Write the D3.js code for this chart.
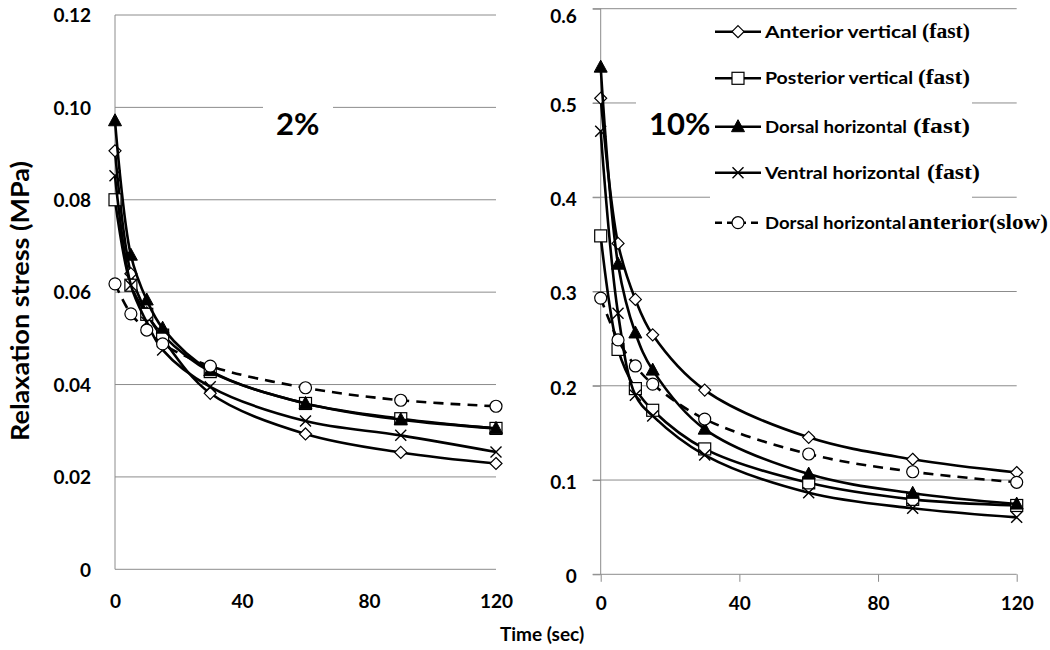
<!DOCTYPE html>
<html><head><meta charset="utf-8">
<script src="https://cdn.jsdelivr.net/npm/d3@7"></script>
<style>
html,body{margin:0;padding:0;background:#fff;}
svg{display:block;}
text{font-family:Lato,"Open Sans",sans-serif;font-weight:bold;fill:#000;}
</style></head>
<body>
<svg id="chart" width="1050" height="650"></svg>
<script>
// ---- data ----
const time = [0, 5, 10, 15, 30, 60, 90, 120];
const seriesNames = ["Anterior vertical", "Posterior vertical", "Dorsal horizontal", "Ventral horizontal", "Dorsal horizontal"];
const seriesSuffix = ["(fast)", "(fast)", "(fast)", "(fast)", "anterior(slow)"];
const markerTypes = ["diamond", "square", "triangle", "x", "circle"];

// 2% strain
const anteriorV2 = [0.0906, 0.0640, 0.0555, 0.0500, 0.0381, 0.0293, 0.0253, 0.0229];
const posteriorV2 = [0.0800, 0.0615, 0.0552, 0.0507, 0.0428, 0.0359, 0.0326, 0.0305];
const dorsalH2 = [0.0971, 0.0680, 0.0583, 0.0522, 0.0430, 0.0359, 0.0324, 0.0305];
const ventralH2 = [0.0852, 0.0615, 0.0535, 0.0475, 0.0395, 0.0321, 0.0290, 0.0254];
const dorsalAntSlow2 = [0.0618, 0.0553, 0.0518, 0.0488, 0.0440, 0.0393, 0.0366, 0.0353];

// 10% strain
const anteriorV10 = [0.505, 0.351, 0.2916, 0.254, 0.1954, 0.1453, 0.122, 0.108];
const posteriorV10 = [0.359, 0.2386, 0.197, 0.174, 0.133, 0.097, 0.0795, 0.073];
const dorsalH10 = [0.538, 0.329, 0.256, 0.2166, 0.154, 0.1063, 0.0859, 0.0745];
const ventralH10 = [0.470, 0.277, 0.190, 0.168, 0.1265, 0.0865, 0.070, 0.0604];
const dorsalAntSlow10 = [0.293, 0.2486, 0.221, 0.2018, 0.1647, 0.1276, 0.1088, 0.0976];

const xTicks = [0, 40, 80, 120];
const yTicks2 = [0, 0.02, 0.04, 0.06, 0.08, 0.10, 0.12];
const yTicks10 = [0, 0.1, 0.2, 0.3, 0.4, 0.5, 0.6];
const yTickLabels2 = ["0", "0.02", "0.04", "0.06", "0.08", "0.10", "0.12"];
const yTickLabels10 = ["0", "0.1", "0.2", "0.3", "0.4", "0.5", "0.6"];

const svg = d3.select("#chart");
const GRID = "#8c8c8c";
const LW = 2.6;

function drawMarker(g, type, cx, cy) {
  if (type === "diamond") {
    g.append("path").attr("d", `M${cx},${cy-6}L${cx+6},${cy}L${cx},${cy+6}L${cx-6},${cy}Z`)
      .attr("fill", "#fff").attr("stroke", "#000").attr("stroke-width", 1.2);
  } else if (type === "square") {
    g.append("rect").attr("x", cx-6).attr("y", cy-6).attr("width", 12).attr("height", 12)
      .attr("fill", "#fff").attr("stroke", "#000").attr("stroke-width", 1.2);
  } else if (type === "triangle") {
    g.append("path").attr("d", `M${cx},${cy-7}L${cx+6.5},${cy+5}L${cx-6.5},${cy+5}Z`)
      .attr("fill", "#000").attr("stroke", "#000").attr("stroke-width", 1);
  } else if (type === "x") {
    g.append("path").attr("d", `M${cx-5.5},${cy-5.5}L${cx+5.5},${cy+5.5}M${cx+5.5},${cy-5.5}L${cx-5.5},${cy+5.5}`)
      .attr("stroke", "#000").attr("stroke-width", 1.4).attr("fill", "none");
  } else if (type === "circle") {
    g.append("circle").attr("cx", cx).attr("cy", cy).attr("r", 6)
      .attr("fill", "#fff").attr("stroke", "#000").attr("stroke-width", 1.2);
  }
}

function drawPanel(cfg) {
  const x = d3.scaleLinear().domain([0, 120]).range(cfg.xr);
  const y = d3.scaleLinear().domain(cfg.ydom).range(cfg.yr);
  const g = svg.append("g");

  // gridlines
  g.selectAll(".grid").data(cfg.yTicks.filter(d => d > 0)).enter().append("line")
    .attr("x1", cfg.xr[0] - cfg.ytick).attr("x2", cfg.xr[1])
    .attr("y1", d => y(d)).attr("y2", d => y(d))
    .attr("stroke", GRID).attr("stroke-width", 1);

  // white boxes covering gridlines (text boxes / legend)
  cfg.boxes.forEach(b => g.append("rect").attr("x", b[0]).attr("y", b[1]).attr("width", b[2]).attr("height", b[3]).attr("fill", "#fff"));

  // y axis
  const ya = d3.axisLeft(y).tickValues(cfg.yTicks).tickFormat((d, i) => cfg.yLabels[i])
    .tickSize(cfg.ytick).tickPadding(cfg.ypad);
  const yg = g.append("g").attr("transform", `translate(${cfg.xr[0]},0)`).call(ya);
  yg.select(".domain").remove();
  yg.selectAll(".tick line").attr("stroke", GRID);
  yg.selectAll(".tick text").attr("font-size", 19).attr("font-family", "Lato").attr("font-weight", "bold").attr("fill", "#000")
    .attr("dy", "0.36em")
    .attr("y", d => Math.max(0, 14 - y(d)) + cfg.yLabelShift);
  g.append("line").attr("x1", cfg.xr[0]).attr("x2", cfg.xr[0]).attr("y1", cfg.yr[1]).attr("y2", cfg.yr[0])
    .attr("stroke", GRID).attr("stroke-width", 1);

  // x axis
  const xa = d3.axisBottom(x).tickValues(xTicks).tickSize(cfg.xtick).tickPadding(0);
  const xg = g.append("g").attr("transform", `translate(0,${cfg.yr[0]})`).call(xa);
  xg.select(".domain").remove();
  xg.selectAll(".tick line").attr("stroke", GRID);
  xg.selectAll(".tick text").attr("font-size", 19).attr("font-family", "Lato").attr("font-weight", "bold").attr("fill", "#000")
    .attr("y", cfg.xLabelBase - cfg.yr[0]).attr("dy", 0);
  g.append("line").attr("x1", cfg.xr[0] - cfg.ytick).attr("x2", cfg.xr[1]).attr("y1", cfg.yr[0]).attr("y2", cfg.yr[0])
    .attr("stroke", GRID).attr("stroke-width", 1);

  // label (2% / 10%)
  g.append("text").attr("x", cfg.label[0]).attr("y", cfg.label[1]).attr("font-size", 31).text(cfg.label[2]);

  // series
  const line = d3.line().x((d, i) => x(time[i])).y(d => y(d)).curve(d3.curveCatmullRom.alpha(0.5));
  cfg.series.forEach((s, k) => {
    g.append("path").attr("d", line(s)).attr("fill", "none").attr("stroke", "#000")
      .attr("stroke-width", LW)
      .attr("stroke-dasharray", markerTypes[k] === "circle" ? "10,7" : null);
    const mg = g.append("g");
    s.forEach((v, i) => drawMarker(mg, markerTypes[k], x(time[i]), y(v)));
  });
}

drawPanel({
  xr: [115, 496], ydom: [0, 0.12], yr: [569.3, 15], yTicks: yTicks2, yLabels: yTickLabels2,
  ytick: 0, ypad: 24, xtick: 0, xLabelBase: 608.5, yLabelShift: 0,
  boxes: [[263, 96, 70, 50]],
  label: [276, 135, "2%"],
  series: [anteriorV2, posteriorV2, dorsalH2, ventralH2, dorsalAntSlow2]
});

drawPanel({
  xr: [600.7, 1016.7], ydom: [0, 0.6], yr: [574.3, 8.7], yTicks: yTicks10, yLabels: yTickLabels10,
  ytick: 8, ypad: 16, xtick: 7.5, xLabelBase: 610, yLabelShift: 1.5,
  boxes: [[636, 92, 80, 52], [710, 14, 262, 230]],
  label: [649, 135, "10%"],
  series: [anteriorV10, posteriorV10, dorsalH10, ventralH10, dorsalAntSlow10]
});

// legend
const legY = [31.7, 78.3, 126.7, 172.7, 222.7];
const legNameW = [152, 148, 142, 155, 141];
const legSufX = [922, 918, 913, 927, 908];
const legSufW = [48, 52, 57, 53, 140];
const lg = svg.append("g");
seriesNames.forEach((n, k) => {
  const cy = legY[k];
  lg.append("line").attr("x1", 715).attr("x2", 761).attr("y1", cy).attr("y2", cy)
    .attr("stroke", "#000").attr("stroke-width", LW)
    .attr("stroke-dasharray", markerTypes[k] === "circle" ? "7,5" : null);
  drawMarker(lg, markerTypes[k], 738, cy);
  lg.append("text").attr("x", 765).attr("y", cy + 6).attr("font-size", 17)
    .attr("textLength", legNameW[k]).attr("lengthAdjust", "spacingAndGlyphs").text(n);
  lg.append("text").attr("x", legSufX[k]).attr("y", cy + 6).attr("font-size", 20)
    .style("font-family", "'Liberation Serif','Times New Roman',serif")
    .attr("textLength", legSufW[k]).attr("lengthAdjust", "spacingAndGlyphs").text(seriesSuffix[k]);
});

// axis titles
svg.append("text").attr("transform", "translate(29,301) rotate(-90)").attr("text-anchor", "middle")
  .attr("font-size", 25).attr("textLength", 280).attr("lengthAdjust", "spacingAndGlyphs")
  .text("Relaxation stress (MPa)");
svg.append("text").attr("x", 542).attr("y", 641).attr("text-anchor", "middle").attr("font-size", 19)
  .text("Time (sec)");
</script>
</body></html>
